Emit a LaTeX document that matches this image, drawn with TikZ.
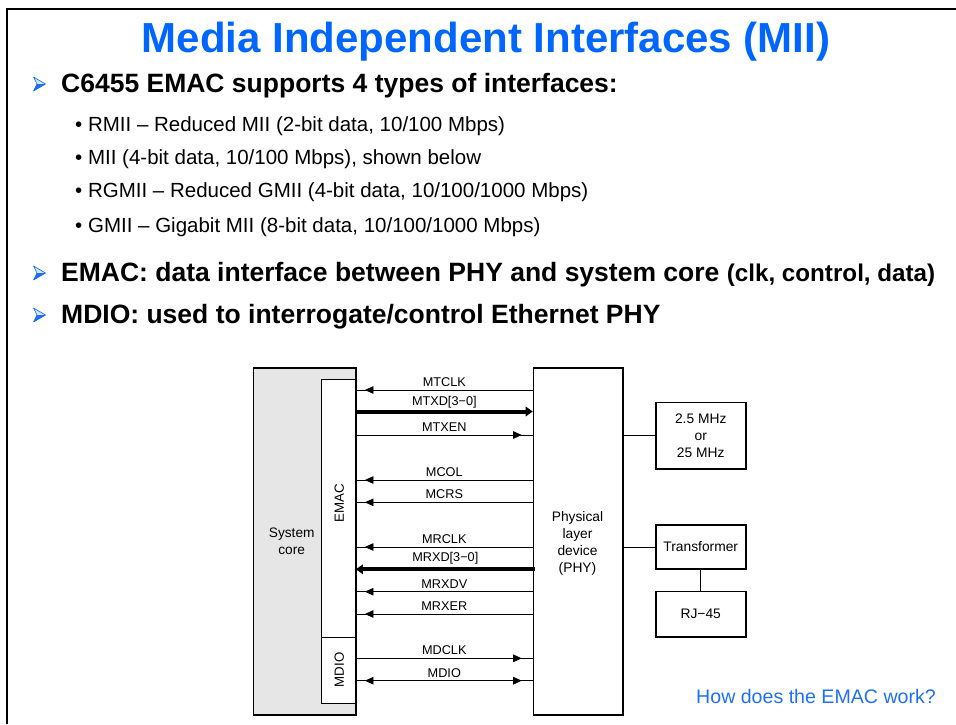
\documentclass[tikz,border=0pt]{standalone}
\usepackage{fontspec}
\setmainfont{Liberation Sans}
\usetikzlibrary{arrows.meta,calc}
\definecolor{titleblue}{HTML}{0066FF}
\definecolor{linkblue}{HTML}{1F6FFF}
\definecolor{coregray}{HTML}{E6E6E6}
\definecolor{bulletlight}{HTML}{D6E4FF}
\definecolor{bulletdark}{HTML}{2A6CF0}
\tikzset{
  sigtip/.tip={Triangle[length=8.5pt,width=7.5pt]},
  bularrow/.pic={
    \fill[bulletlight] (0,-7) -- (12,0) -- (3.5,0) -- cycle;
    \fill[bulletdark] (0,7) -- (12,0) -- (3.5,0) -- cycle;
    \draw[titleblue, line width=0.6pt, line join=round] (0,-7) -- (12,0) -- (0,7) -- (3.5,0) -- cycle;
  }
}
\begin{document}
\begin{tikzpicture}[x=1pt,y=-1pt,
  box/.style={draw, line width=1.5pt, inner sep=0pt, anchor=north west},
  ibox/.style={draw, line width=0.9pt, fill=white, inner sep=0pt, anchor=north west},
  btxt/.style={font=\fontsize{13.8}{17}\selectfont, align=center, inner sep=0pt},
  lblst/.style={font=\fontsize{12.7}{14}\selectfont, text depth=0pt, inner xsep=0pt, inner ysep=3pt, above},
  sig/.style={line width=0.8pt},
  sigL/.style={sig, postaction={draw, -sigtip, shorten >=9pt}},
  sigR/.style={sig, postaction={draw, -sigtip, shorten >=11pt}},
  sigB/.style={sig, postaction={draw, sigtip-sigtip, shorten <=9pt, shorten >=11pt}},
  thicksig/.style={line width=4pt, -{Triangle[length=7pt,width=9.5pt]}},
  bhead/.style={font=\fontsize{26.5}{30}\selectfont\bfseries, inner sep=0pt, anchor=base west},
  bsub/.style={font=\fontsize{20.5}{24}\selectfont, inner sep=0pt, anchor=base west},
  conn/.style={line width=0.8pt}
]
\useasboundingbox (0,0) rectangle (956,724);
% slide frame
\draw[line width=2pt] (6.8,724) -- (6.8,8.8) -- (956,8.8);

% title
\node[font=\fontsize{42}{48}\selectfont\bfseries, text=titleblue, inner sep=0pt, anchor=base] (title) at (486,52) {Media Independent Interfaces (MII)};

% bullets
\pic at (33.5,84) {bularrow};
\node[bhead] (b1) at (61,92) {C6455 EMAC supports 4 types of interfaces:};
\node[bsub] (s1) at (75,131) {• RMII – Reduced MII (2-bit data, 10/100 Mbps)};
\node[bsub] (s2) at (75,164) {• MII (4-bit data, 10/100 Mbps), shown below};
\node[bsub] (s3) at (75,197) {• RGMII – Reduced GMII (4-bit data, 10/100/1000 Mbps)};
\node[bsub] (s4) at (75,232) {• GMII – Gigabit MII (8-bit data, 10/100/1000 Mbps)};
\pic at (33.5,273) {bularrow};
\node[bhead] (b2) at (61,281) {EMAC: data interface between PHY and system core {\fontsize{24.2}{27}\selectfont (clk, control, data)}};
\pic at (33.5,315) {bularrow};
\node[bhead] (b3) at (61,323) {MDIO: used to interrogate/control Ethernet PHY};

% diagram blocks
\node[box, fill=coregray, minimum width=102.3pt, minimum height=347pt] (core) at (252.7,367) {};
\node[ibox, minimum width=34pt, minimum height=257.7pt] (emac) at (321,379) {};
\node[ibox, minimum width=34pt, minimum height=66.6pt] (mdio) at (321,636.7) {};
\node[btxt, font=\fontsize{13.7}{17.3}\selectfont] (coretxt) at (291.7,541.3) {System\\core};
\node[btxt, font=\fontsize{13.3}{16}\selectfont, rotate=90] (emactxt) at (339.3,503) {EMAC};
\node[btxt, font=\fontsize{13.3}{16}\selectfont, rotate=90] (mdiotxt) at (339.3,670) {MDIO};

\node[box, minimum width=89.6pt, minimum height=347pt] (phy) at (532.7,367) {};
\node[btxt] (phytxt) at (577.5,543) {Physical\\layer\\device\\(PHY)};

\node[box, btxt, anchor=north west, minimum width=90pt, minimum height=66.6pt] (clk) at (655,401.7) {2.5 MHz\\or\\25 MHz};
\node[box, btxt, anchor=north west, minimum width=90pt, minimum height=44.3pt] (xf) at (655,524) {Transformer};
\node[box, btxt, anchor=north west, minimum width=90pt, minimum height=45.3pt] (rj) at (655,590.7) {RJ−45};

\draw[conn] (phy.east |- clk.west) -- (clk.west);
\draw[conn] (phy.east |- xf.west) -- (xf.west);
\draw[conn] (xf.south) -- (rj.north);

% signal rows
\coordinate (y1) at (0,390);
\coordinate (y2) at (0,411.5);
\coordinate (y3) at (0,435);
\coordinate (y4) at (0,480);
\coordinate (y5) at (0,502.3);
\coordinate (y6) at (0,547);
\coordinate (y7) at (0,569.3);
\coordinate (y8) at (0,591.7);
\coordinate (y9) at (0,614);
\coordinate (y10) at (0,658.3);
\coordinate (y11) at (0,680.7);

\draw[sigL] (phy.west |- y1) -- node[lblst] (l1) {MTCLK} (emac.east |- y1);
\draw[thicksig] (emac.east |- y2) -- node[lblst, inner ysep=4.5pt] (l2) {MTXD[3−0]} (phy.west |- y2);
\draw[sigR] (emac.east |- y3) -- node[lblst] (l3) {MTXEN} (phy.west |- y3);
\draw[sigL] (phy.west |- y4) -- node[lblst] (l4) {MCOL} (emac.east |- y4);
\draw[sigL] (phy.west |- y5) -- node[lblst] (l5) {MCRS} (emac.east |- y5);
\draw[sigL] (phy.west |- y6) -- node[lblst] (l6) {MRCLK} (emac.east |- y6);
\draw[thicksig] ([xshift=2pt]phy.west |- y7) -- node[lblst, inner ysep=5.5pt] (l7) {MRXD[3−0]} (emac.east |- y7);
\draw[sigL] (phy.west |- y8) -- node[lblst] (l8) {MRXDV} (emac.east |- y8);
\draw[sigL] (phy.west |- y9) -- node[lblst] (l9) {MRXER} (emac.east |- y9);
\draw[sigR] (mdio.east |- y10) -- node[lblst] (l10) {MDCLK} (phy.west |- y10);
\draw[sigB] (mdio.east |- y11) -- node[lblst] (l11) {MDIO} (phy.west |- y11);

% footer link
\node[font=\fontsize{19.6}{22}\selectfont, text=linkblue, inner sep=0pt, anchor=base west] (howlink) at (696,703.3) {How does the EMAC work?};
\end{tikzpicture}
\end{document}
